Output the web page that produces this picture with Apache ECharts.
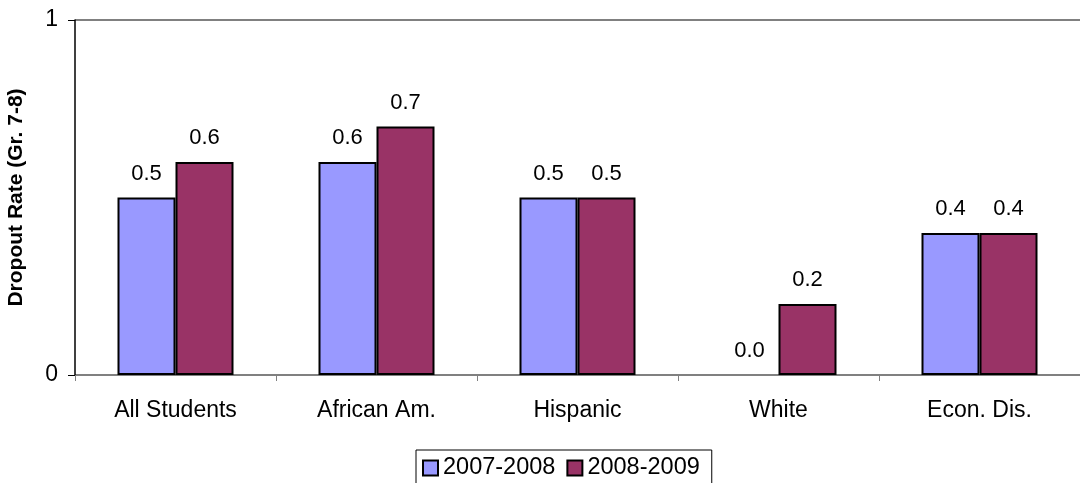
<!DOCTYPE html>
<html><head><meta charset="utf-8">
<script src="https://cdn.jsdelivr.net/npm/echarts@6/dist/echarts.min.js"></script>
<style>html,body{margin:0;padding:0;background:#fff}#c{width:1080px;height:483px}</style>
</head><body><div id="c"></div>
<script>
var categories = ['All Students', 'African Am.', 'Hispanic', 'White', 'Econ. Dis.'];
var series2007 = [0.5, 0.6, 0.5, 0.0, 0.4];
var series2008 = [0.6, 0.7, 0.5, 0.2, 0.4];
var seriesNames = ['2007-2008', '2008-2009'];
var yTicks = [0, 1];
var F = 'Liberation Sans, Arial, sans-serif';
var chart = echarts.init(document.getElementById('c'));
function lbl() {
  return {show: true, position: 'top', distance: 13, color: '#000', fontSize: 22, fontFamily: F,
    formatter: function (p) { return p.value.toFixed(1); }};
}
function items(arr) {
  return arr.map(function (v) { return v === 0 ? {value: v, itemStyle: {borderWidth: 0}} : v; });
}
chart.setOption({
  animation: false,
  grid: {left: 75, right: 0, top: 20, bottom: 108, containLabel: false, outerBoundsMode: 'none'},
  legend: {
    data: seriesNames, top: 450, left: 416, orient: 'horizontal',
    itemWidth: 15, itemHeight: 15, itemGap: 11,
    padding: [6, 12, 6, 6],
    borderColor: '#000', borderWidth: 1,
    textStyle: {fontSize: 23.5, fontFamily: F, color: '#000'},
    icon: 'rect'
  },
  xAxis: {
    type: 'category', data: categories,
    axisLine: {lineStyle: {color: '#808080', width: 1}},
    axisTick: {show: true, length: 6, alignWithLabel: false, lineStyle: {color: '#808080'}},
    axisLabel: {color: '#000', fontSize: 23, fontFamily: F, margin: 24}
  },
  yAxis: {
    type: 'value', min: yTicks[0], max: yTicks[yTicks.length - 1], interval: 1,
    name: 'Dropout Rate (Gr. 7-8)', nameLocation: 'middle', nameGap: 48,
    nameTextStyle: {fontSize: 21, fontWeight: 'bold', fontFamily: F, color: '#000'},
    axisLine: {show: true, lineStyle: {color: '#000', width: 1.5}},
    axisTick: {show: true, length: 7, lineStyle: {color: '#000'}},
    axisLabel: {color: '#000', fontSize: 23, fontFamily: F, margin: 17},
    splitLine: {show: true, lineStyle: {color: '#808080', width: 2}}
  },
  series: [
    {name: seriesNames[0], type: 'bar', data: items(series2007), barWidth: 58, barGap: '0%',
      itemStyle: {color: '#9999FF', borderColor: '#000', borderWidth: 2}, label: lbl()},
    {name: seriesNames[1], type: 'bar', data: items(series2008), barWidth: 58, barGap: '0%',
      itemStyle: {color: '#993366', borderColor: '#000', borderWidth: 2}, label: lbl()}
  ]
});
</script></body></html>
